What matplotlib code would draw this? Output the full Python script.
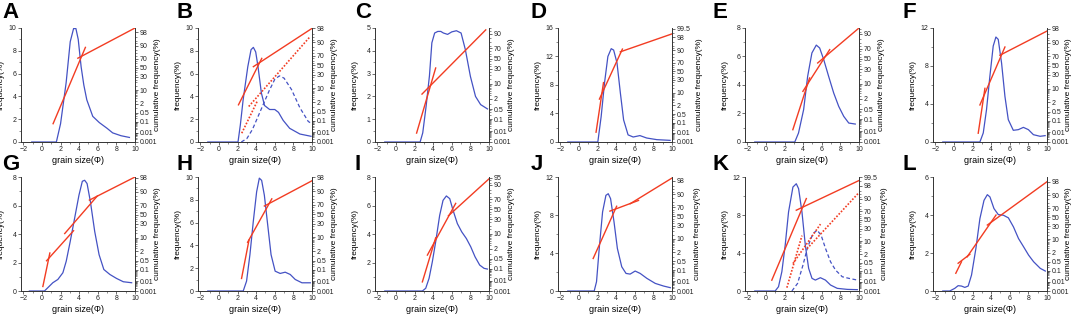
import numpy as np
import matplotlib
matplotlib.use('Agg')
import matplotlib.pyplot as plt
from statistics import NormalDist

plt.rcParams['font.family'] = ['Liberation Sans', 'DejaVu Sans']

# ---- data: grain size (phi) vs frequency (%) ----
A_phi = [-1.1, 1.55, 2.0, 2.6, 3.04, 3.4, 3.65, 3.9, 4.21, 4.5, 4.82, 5.46, 6.17, 7.0, 7.6, 8.5, 9.4]
A_freq = [0, 0, 1.6, 5.2, 8.8, 9.95, 9.95, 9.0, 6.6, 5.0, 3.7, 2.25, 1.7, 1.2, 0.8, 0.55, 0.4]
A_cum = [(1.2, 0.066, 4.67, 88), (3.86, 71, 10, 98.9)]

B_phi = [-1.2, 2.05, 2.3, 2.6, 3.1, 3.45, 3.7, 3.95, 4.2, 4.56, 4.9, 5.45, 6.0, 6.4, 6.9, 7.6, 8.7, 9.9]
B_freq = [0, 0, 1.5, 3.7, 6.6, 8.1, 8.3, 7.9, 6.6, 4.3, 3.2, 2.85, 2.85, 2.6, 1.9, 1.2, 0.7, 0.5]
B_phi2 = [2.4, 3.0, 3.6, 4.5, 5.4, 6.0, 6.5, 7.0, 7.8, 8.7, 9.6, 10.0]
B_freq2 = [0, 0.3, 1.1, 2.8, 4.5, 5.5, 5.8, 5.6, 4.6, 3.0, 1.8, 1.6]
B_cum = [(2.1, 1.4, 4.6, 65), (3.7, 47, 10, 98)]
B_cum2 = [(2.45, 0.008, 4.1, 2.2), (3.2, 1.1, 9.8, 94.5)]

C_phi = [-1.2, 2.6, 2.88, 3.24, 3.6, 3.86, 4.16, 4.5, 4.82, 5.1, 5.55, 6.0, 6.5, 7.0, 7.46, 8.0, 8.55, 9.1, 9.84]
C_freq = [0, 0, 0.4, 1.56, 2.9, 4.35, 4.78, 4.85, 4.85, 4.78, 4.72, 4.83, 4.88, 4.78, 4.05, 2.88, 2.0, 1.64, 1.45]
C_cum = [(2.22, 0.007, 4.27, 31.7), (2.8, 3.5, 9.65, 93)]

D_phi = [-1.2, 2.03, 2.39, 2.75, 3.11, 3.47, 3.73, 4.09, 4.45, 4.8, 5.28, 5.83, 6.55, 7.28, 8.37, 9.8]
D_freq = [0, 0, 3.6, 8.3, 12.0, 13.1, 12.9, 11.1, 6.9, 3.1, 1.0, 0.7, 0.9, 0.56, 0.33, 0.23]
D_cum = [(1.84, 0.012, 2.64, 24.8), (2.2, 4.7, 4.67, 91), (4.45, 88, 10, 98.8)]

E_phi = [-1.2, 3.1, 3.5, 4.05, 4.48, 4.94, 5.41, 5.77, 6.2, 6.74, 7.28, 7.82, 8.36, 8.9, 9.6]
E_freq = [0, 0, 0.63, 2.27, 4.6, 6.25, 6.8, 6.6, 5.8, 4.6, 3.44, 2.5, 1.8, 1.33, 1.26]
E_cum = [(2.89, 0.014, 4.69, 16.4), (3.97, 4.8, 6.85, 68.4), (5.56, 41.8, 10, 94.4)]

F_phi = [-1.2, 2.79, 3.15, 3.5, 3.86, 4.22, 4.51, 4.76, 5.12, 5.48, 5.84, 6.38, 6.92, 7.46, 8.0, 8.54, 9.26, 9.8]
F_freq = [0, 0, 0.95, 3.4, 6.9, 10.1, 11.05, 10.8, 8.3, 4.8, 2.35, 1.23, 1.3, 1.54, 1.3, 0.77, 0.6, 0.67]
F_cum = [(2.61, 0.008, 3.33, 10.2), (2.79, 1.4, 5.48, 85), (4.94, 71.8, 10, 97.3)]

G_phi = [-1.35, 0.27, 0.63, 1.17, 1.71, 2.25, 2.61, 3.04, 3.51, 3.98, 4.34, 4.59, 4.85, 5.21, 5.67, 6.14, 6.65, 7.3, 8.02, 8.74, 9.64]
G_freq = [0, 0, 0.23, 0.58, 0.81, 1.28, 2.09, 3.48, 5.1, 6.73, 7.7, 7.77, 7.54, 6.26, 4.18, 2.55, 1.51, 1.16, 0.88, 0.65, 0.58]
G_cum = [(0.1, 0.003, 0.85, 1.6), (0.5, 0.5, 3.4, 18.4), (2.45, 14.5, 5.95, 85), (5.1, 79, 10, 98.2)]

H_phi = [-1.2, 2.61, 2.97, 3.33, 3.69, 4.05, 4.34, 4.59, 4.88, 5.24, 5.6, 6.04, 6.58, 7.12, 7.66, 8.2, 8.92, 9.82]
H_freq = [0, 0, 0.87, 3.19, 6.09, 8.7, 9.9, 9.7, 8.4, 5.8, 3.19, 1.74, 1.54, 1.65, 1.45, 1.01, 0.72, 0.72]
H_cum = [(2.43, 0.018, 3.23, 7.6), (3.08, 6.0, 5.68, 80.5), (4.88, 67.7, 10, 96.9)]

I_phi = [-1.2, 2.84, 3.2, 3.56, 3.91, 4.27, 4.7, 5.06, 5.42, 5.78, 6.14, 6.6, 7.07, 7.57, 8.04, 8.5, 9.0, 9.47, 9.83]
I_freq = [0, 0, 0.19, 0.89, 2.05, 3.45, 5.31, 6.36, 6.67, 6.48, 5.66, 4.73, 4.15, 3.68, 3.1, 2.4, 1.82, 1.59, 1.54]
I_cum = [(2.84, 0.0076, 4.27, 6.9), (3.38, 0.85, 6.42, 62.4), (5.64, 37, 10, 94.5)]

J_phi = [-1.2, 1.64, 1.89, 2.18, 2.54, 2.9, 3.15, 3.4, 3.77, 4.13, 4.6, 5.06, 5.5, 6.04, 6.58, 7.3, 8.2, 9.1, 9.82]
J_freq = [0, 0, 0.98, 4.48, 8.32, 10.07, 10.24, 9.72, 7.27, 4.48, 2.55, 1.85, 1.78, 2.1, 1.85, 1.33, 0.8, 0.52, 0.35]
J_cum = [(1.53, 0.81, 4.05, 72), (3.33, 62, 6.4, 82), (5.5, 76.6, 10, 98.6)]

K_phi = [-1.2, 0.99, 1.35, 1.71, 2.07, 2.43, 2.9, 3.26, 3.51, 3.87, 4.23, 4.59, 4.95, 5.31, 5.85, 6.39, 6.94, 7.66, 8.74, 9.82]
K_freq = [0, 0, 0.45, 2.03, 4.83, 8.32, 10.94, 11.29, 10.77, 8.32, 4.83, 2.38, 1.33, 1.15, 1.4, 1.15, 0.63, 0.28, 0.17, 0.14]
K_phi2 = [2.79, 3.4, 3.98, 4.49, 5.06, 5.5, 5.93, 6.4, 6.94, 7.48, 8.2, 8.92, 9.82]
K_freq2 = [0, 0.8, 2.73, 4.65, 6.05, 6.4, 5.87, 4.48, 3.08, 2.2, 1.5, 1.33, 1.15]
K_cum = [(0.63, 0.015, 4.34, 90), (3.26, 72, 10, 99.1)]
K_cum2 = [(2.25, 0.0024, 3.87, 17.3), (2.9, 0.44, 5.86, 40), (4.41, 4.2, 10, 95)]

L_phi = [-1.2, -0.45, 0.09, 0.45, 0.81, 1.17, 1.53, 1.89, 2.36, 2.79, 3.23, 3.59, 3.87, 4.3, 4.77, 5.31, 5.85, 6.4, 6.94, 7.48, 8.02, 8.56, 9.28, 9.82]
L_freq = [0, 0, 0.14, 0.28, 0.26, 0.19, 0.26, 0.84, 2.24, 3.81, 4.77, 5.07, 4.95, 4.34, 4.02, 3.99, 3.85, 3.37, 2.76, 2.33, 1.89, 1.54, 1.19, 1.05]
L_cum = [(0.2, 0.06, 0.81, 0.5), (0.45, 0.39, 1.71, 1.6), (1.42, 1.1, 4.52, 55), (3.59, 32.6, 10, 98)]

letters = ['A', 'B', 'C', 'D', 'E', 'F', 'G', 'H', 'I', 'J', 'K', 'L']
freq_max = [10, 10, 5, 16, 8, 12, 8, 10, 8, 12, 12, 6]
freq_step = [2, 2, 1, 4, 2, 4, 2, 2, 2, 4, 4, 2]
cum_top = [98.9, 98.1, 94.2, 99.55, 94.4, 98.2, 98.2, 98.1, 95.5, 98.8, 99.5, 99.0]
cum_ticks = [0.001, 0.01, 0.1, 0.5, 2, 10, 30, 50, 70, 90]
cum_extra = [[98], [98], [], [98, 99.5], [], [98], [98], [98], [95], [98], [98, 99.5], [98]]

panels = [
    (A_phi, A_freq, None, None, A_cum, None),
    (B_phi, B_freq, B_phi2, B_freq2, B_cum, B_cum2),
    (C_phi, C_freq, None, None, C_cum, None),
    (D_phi, D_freq, None, None, D_cum, None),
    (E_phi, E_freq, None, None, E_cum, None),
    (F_phi, F_freq, None, None, F_cum, None),
    (G_phi, G_freq, None, None, G_cum, None),
    (H_phi, H_freq, None, None, H_cum, None),
    (I_phi, I_freq, None, None, I_cum, None),
    (J_phi, J_freq, None, None, J_cum, None),
    (K_phi, K_freq, K_phi2, K_freq2, K_cum, K_cum2),
    (L_phi, L_freq, None, None, L_cum, None),
]

nd = NormalDist()
def probit(p):
    return np.array([nd.inv_cdf(v / 100.0) for v in np.atleast_1d(p)])

blue = '#4452c4'
red = '#f23c22'
axcol = '#333333'

W, H = 1072, 315
fig = plt.figure(figsize=(W / 100, H / 100), dpi=100)
col_left = [21, 198, 375, 558, 745, 933]
row_top = [28, 177]
axw, axh = 114, 114
letter_x = [2, 177, 355, 531, 713, 903]
letter_y = [2, 154]
# horizontal offset (px from spine) of the right axis label
rlab_off = [19, 19, 19, 24, 19, 18, 19, 19, 19, 22, 22, 18]

minor_p = np.concatenate([np.arange(2, 10) * 1e-3, np.arange(2, 10) * 1e-2,
                          [0.2, 0.3, 0.4, 1, 3, 4, 5, 6, 7, 8, 9, 15, 20, 25, 35, 40, 45,
                           55, 60, 65, 75, 80, 85, 92, 94, 96, 99]])

for i, (phi, freq, phi2, freq2, cum, cum2) in enumerate(panels):
    r, c = divmod(i, 6)
    ax = fig.add_axes([col_left[c] / W, 1 - (row_top[r] + axh) / H, axw / W, axh / H])
    ax2 = ax.twinx()

    ax.plot(phi, freq, color=blue, lw=0.9)
    if phi2 is not None:
        ax.plot(phi2, freq2, color=blue, lw=0.9, ls=(0, (3, 2)))

    for x0, p0, x1, p1 in cum:
        ax2.plot([x0, x1], probit([p0, p1]), color=red, lw=1.0)
    if cum2 is not None:
        for x0, p0, x1, p1 in cum2:
            ax2.plot([x0, x1], probit([p0, p1]), color=red, lw=1.2, ls=(0, (1, 1)))

    ax.set_xlim(-2.25, 10)
    ax.set_ylim(0, freq_max[i])
    ax.set_xticks(np.arange(-2, 11, 2))
    ax.set_xticks(np.arange(-1, 10, 2), minor=True)
    ax.set_yticks(np.arange(0, freq_max[i] + 0.01, freq_step[i]))
    ax.set_yticks(np.arange(0, freq_max[i] + 0.01, freq_step[i] / 2), minor=True)

    top = probit(cum_top[i])[0]
    ax2.set_ylim(probit(0.001)[0], top)
    tks = cum_ticks + cum_extra[i]
    ax2.set_yticks(probit(tks))
    ax2.set_yticklabels([f'{t:g}' for t in tks])
    mp = minor_p[minor_p < cum_top[i]]
    ax2.set_yticks(probit(mp), minor=True)

    for a in (ax, ax2):
        a.spines['top'].set_visible(False)
        for s in ('left', 'right', 'bottom'):
            a.spines[s].set_linewidth(0.6)
            a.spines[s].set_color(axcol)
        a.tick_params(which='major', length=2.2, width=0.5, pad=1, labelsize=5,
                      colors=axcol, labelcolor='#222222')
        a.tick_params(which='minor', length=1.2, width=0.4, colors=axcol)

    ax.set_xlabel('grain size(Φ)', fontsize=6.5, labelpad=1.5)
    ax.set_ylabel('frequency(%)', fontsize=6, labelpad=1)
    ax.yaxis.set_label_coords(-16 / axw, 0.5)
    ax2.set_ylabel('cumulative frequency(%)', fontsize=6, labelpad=1)
    ax2.yaxis.set_label_coords(1 + rlab_off[i] / axw, 0.5)

    fig.text(letter_x[c] / W, 1 - letter_y[r] / H, letters[i], fontsize=16,
             fontweight='bold', ha='left', va='top')

fig.savefig('out.png', dpi=100)
